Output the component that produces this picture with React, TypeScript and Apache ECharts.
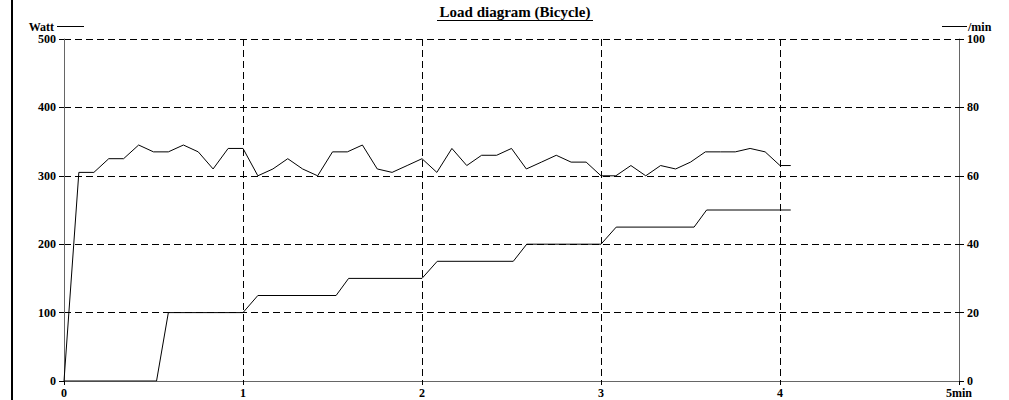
import React, { useEffect, useRef } from "react";
import * as echarts from "echarts";

const title = "Load diagram (Bicycle)";
const leftUnit = "Watt";
const rightUnit = "/min";

// Power (Watt) — time in minutes
const powerTime = [0, 0.517, 0.583, 1.0, 1.083, 1.52, 1.59, 2.0, 2.085, 2.51, 2.585, 3.0, 3.085, 3.52, 3.59, 4.06];
const powerWatt = [0, 0, 100, 100, 125, 125, 150, 150, 175, 175, 200, 200, 225, 225, 250, 250];

// Cadence (/min) — time in minutes
const cadTime = [
  0, 0.083, 0.167, 0.25, 0.333, 0.417, 0.5, 0.583, 0.667, 0.75, 0.833, 0.917, 1.0,
  1.083, 1.167, 1.25, 1.333, 1.417, 1.5, 1.583, 1.667, 1.75, 1.833, 1.917, 2.0,
  2.083, 2.167, 2.25, 2.333, 2.417, 2.5, 2.583, 2.667, 2.75, 2.833, 2.917, 3.0,
  3.083, 3.167, 3.25, 3.333, 3.417, 3.5, 3.583, 3.667, 3.75, 3.833, 3.917, 4.0, 4.06,
];
const cadRpm = [
  0, 61, 61, 65, 65, 69, 67, 67, 69, 67, 62, 68, 68,
  60, 62, 65, 62, 60, 67, 67, 69, 62, 61, 63, 65,
  61, 68, 63, 66, 66, 68, 62, 64, 66, 64, 64, 60,
  60, 63, 60, 63, 62, 64, 67, 67, 67, 68, 67, 63, 63,
];

const font = "Liberation Serif";

export default function App() {
  const ref = useRef<HTMLDivElement>(null);
  useEffect(() => {
    if (!ref.current) return;
    const chart = echarts.init(ref.current, undefined, { renderer: "svg" });
    const axisLine = { show: true, lineStyle: { color: "#666", width: 1 } };
    const label = { color: "#000", fontFamily: font, fontWeight: "bold" as const, fontSize: 12 };
    const txt = (size: number) => ({ fill: "#000", fontFamily: font, fontWeight: "bold" as const, fontSize: size });
    chart.setOption({
      animation: false,
      backgroundColor: "#fff",
      textStyle: { fontFamily: font },
      grid: { left: 64, right: 50, top: 39, bottom: 19, containLabel: false },
      xAxis: {
        type: "value",
        min: 0,
        max: 5,
        interval: 1,
        axisLine,
        axisTick: { show: true, length: 4, lineStyle: { color: "#000" } },
        axisLabel: {
          ...label,
          margin: 6,
          lineHeight: 12,
          formatter: (v: number) => (v === 5 ? "5min" : String(v)),
        },
        splitLine: {
          show: true,
          lineStyle: { color: "#000", type: [7, 4], width: 1 },
        },
      },
      yAxis: [
        {
          type: "value",
          min: 0,
          max: 500,
          interval: 100,
          axisLine,
          axisTick: { show: true, length: 5, lineStyle: { color: "#000" } },
          axisLabel: { ...label, margin: 8 },
          splitLine: {
            show: true,
            lineStyle: { color: "#000", type: [7, 4], width: 1 },
          },
        },
        {
          type: "value",
          min: 0,
          max: 100,
          interval: 20,
          position: "right",
          axisLine,
          axisTick: { show: true, length: 5, lineStyle: { color: "#000" } },
          axisLabel: { ...label, margin: 8, lineHeight: 11 },
          splitLine: { show: false },
        },
      ],
      series: [
        {
          type: "line",
          yAxisIndex: 0,
          data: powerTime.map((t, i) => [t, powerWatt[i]]),
          showSymbol: false,
          lineStyle: { color: "#000", width: 1 },
          z: 5,
        },
        {
          type: "line",
          yAxisIndex: 1,
          data: cadTime.map((t, i) => [t, cadRpm[i]]),
          showSymbol: false,
          lineStyle: { color: "#000", width: 1 },
          z: 5,
        },
      ],
      graphic: [
        { type: "line", shape: { x1: 12, y1: 0, x2: 12, y2: 400 }, style: { stroke: "#000", lineWidth: 2 } },
        {
          type: "text",
          x: 515,
          y: 12,
          style: { text: title, ...txt(15), align: "center", verticalAlign: "middle" },
        },
        { type: "line", shape: { x1: 437, y1: 20.5, x2: 593, y2: 20.5 }, style: { stroke: "#000", lineWidth: 1 } },
        {
          type: "text",
          x: 54,
          y: 27,
          style: { text: leftUnit, ...txt(12), align: "right", verticalAlign: "middle" },
        },
        { type: "line", shape: { x1: 57, y1: 26.5, x2: 84, y2: 26.5 }, style: { stroke: "#000", lineWidth: 1 } },
        { type: "line", shape: { x1: 942, y1: 26.5, x2: 967, y2: 26.5 }, style: { stroke: "#000", lineWidth: 1 } },
        {
          type: "text",
          x: 968,
          y: 27,
          style: { text: rightUnit, ...txt(12), align: "left", verticalAlign: "middle" },
        },
      ],
    });
    return () => chart.dispose();
  }, []);
  return <div ref={ref} style={{ width: 1009, height: 400, position: "absolute", left: 0, top: 0 }} />;
}
